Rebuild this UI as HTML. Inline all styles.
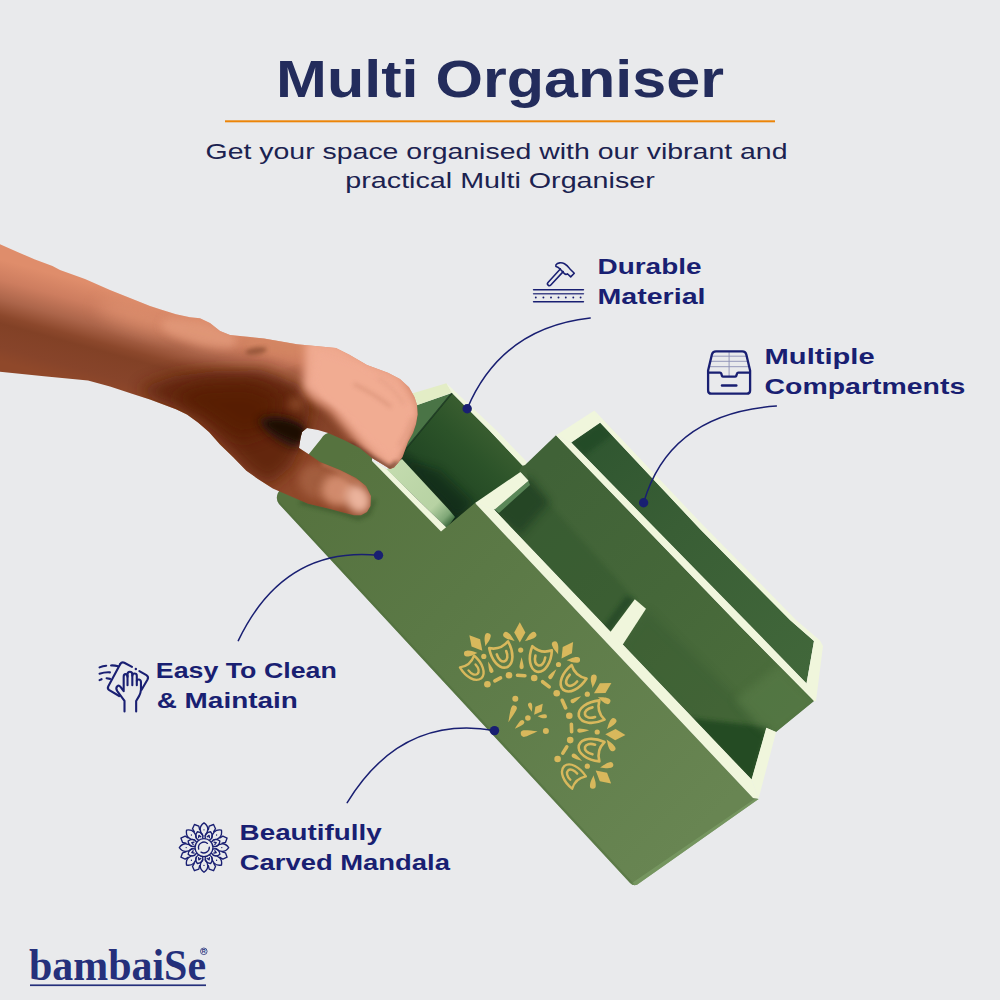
<!DOCTYPE html>
<html lang="en">
<head>
<meta charset="utf-8">
<title>Multi Organiser</title>
<style>
  html, body { margin: 0; padding: 0; background: #e9eaec; }
  body { width: 1000px; height: 1000px; overflow: hidden; position: relative; }
  svg { position: absolute; left: 0; top: 0; display: block; }
  .sans { font-family: "Liberation Sans", "DejaVu Sans", sans-serif; }
  .serif { font-family: "Liberation Serif", "DejaVu Serif", serif; }
  .title { font-weight: 700; font-size: 51px; fill: #232c5c; }
  .sub { font-weight: 400; font-size: 22.6px; fill: #1b2250; }
  .feat { font-weight: 700; font-size: 22.8px; fill: #191f72; }
  .logo { font-weight: 700; font-size: 45px; fill: #25307b; }
  .reg { font-weight: 700; font-size: 5.5px; fill: #25307b; }
</style>
</head>
<body>
<svg width="1000" height="1000" viewBox="0 0 1000 1000">
  <defs>
    <linearGradient id="gArm" gradientUnits="userSpaceOnUse" x1="113" y1="290" x2="87" y2="385">
      <stop offset="0" stop-color="#df8d6b"/>
      <stop offset="0.2" stop-color="#cd7d5f"/>
      <stop offset="0.39" stop-color="#ac654a"/>
      <stop offset="0.55" stop-color="#8c482c"/>
      <stop offset="0.63" stop-color="#824126"/>
      <stop offset="0.86" stop-color="#87442a"/>
      <stop offset="1" stop-color="#8f482a"/>
    </linearGradient>
    <linearGradient id="gFront" gradientUnits="userSpaceOnUse" x1="330" y1="470" x2="700" y2="830">
      <stop offset="0" stop-color="#56733f"/>
      <stop offset="0.35" stop-color="#5b7946"/>
      <stop offset="1" stop-color="#688552"/>
    </linearGradient>
    <linearGradient id="gMid" gradientUnits="userSpaceOnUse" x1="540" y1="470" x2="780" y2="720">
      <stop offset="0" stop-color="#406237"/>
      <stop offset="0.5" stop-color="#456739"/>
      <stop offset="1" stop-color="#4c6e3c"/>
    </linearGradient>
    <linearGradient id="gTall" gradientUnits="userSpaceOnUse" x1="490" y1="425" x2="425" y2="495">
      <stop offset="0" stop-color="#3a5e30"/>
      <stop offset="0.35" stop-color="#2c5329"/>
      <stop offset="0.75" stop-color="#234824"/>
      <stop offset="1" stop-color="#11291a"/>
    </linearGradient>
    <linearGradient id="gRear" gradientUnits="userSpaceOnUse" x1="590" y1="430" x2="810" y2="670">
      <stop offset="0" stop-color="#2f5630"/>
      <stop offset="0.4" stop-color="#395e35"/>
      <stop offset="1" stop-color="#41673a"/>
    </linearGradient>
    <linearGradient id="gSage" gradientUnits="userSpaceOnUse" x1="395" y1="465" x2="452" y2="522">
      <stop offset="0" stop-color="#c3dbae"/>
      <stop offset="0.7" stop-color="#b7d2a3"/>
      <stop offset="0.9" stop-color="#7fa777"/>
      <stop offset="1" stop-color="#3d6a3d"/>
    </linearGradient>
    <filter id="b2" x="-50%" y="-50%" width="200%" height="200%"><feGaussianBlur stdDeviation="2"/></filter>
    <filter id="b4" x="-50%" y="-50%" width="200%" height="200%"><feGaussianBlur stdDeviation="4"/></filter>
    <filter id="b8" x="-50%" y="-50%" width="200%" height="200%"><feGaussianBlur stdDeviation="8"/></filter>
    <filter id="b14" x="-50%" y="-50%" width="200%" height="200%"><feGaussianBlur stdDeviation="14"/></filter>
    <clipPath id="cHand"><path d="M0,244.2 L17.5,251.9 L35,259.6 L52.5,265.9 L60,270 L85,279 L110,290 L135,300 L150,306 L160,309.3 L176,314.3 L190,317.3 L200,318.3 L210,323 L220,331 L230,335 L250,337 L264,338.5 L297,344.2 L323,346.8 L336,348.1 L349,354.6 L367,365 L388,372.8 L400,379 L409,387.2 L414.5,397 L417,405 L417.6,414.4 L416,424 L413,433 L408,442 L402.5,457 L398,463 L394,467.5 L390,469 L382,464 L372,458 L360,448 L344,440 L328,433 L318,430 L307,428 L302,432 L300.5,438 L299,448 L310,455 L320,462 L340,470 L356,478 L366,486 L371,496 L370.5,506 L367,512 L361,515.2 L354,515.3 L343,512.6 L330,509 L308,503.8 L290,496 L272.8,488.4 L258,479 L246.4,470.8 L233,457 L220,444.4 L209,432 L198,422.4 L187,414.5 L176,409.2 L150,399.4 L132,393.8 L110,386.5 L88,380.6 L44,376.2 L0,371.8 Z"/></clipPath>
    <clipPath id="cFront"><path d="M281.5,488 Q273.5,496.5 279,504 L630,883 Q634.5,887.5 639.5,883 L758.6,799 L753,798 L475,503 L441,531.5 L372,461 L372,452 L345,436 L331,432.5 Q324.5,432.5 321,439 Z"/></clipPath>
    <clipPath id="cMid"><polygon points="525,465 556,435.3 740,626 814,701 776,732 766.3,727.8 751.6,779.6 493.5,509 528.4,480.8"/></clipPath>
    <clipPath id="cTall"><polygon points="452,393 489,430 523,466 521,473 475,504 446,529 388,470 400,456"/></clipPath>
  </defs>
  <rect x="0" y="0" width="1000" height="1000" fill="#e9eaec"/>
  <g id="product">
    <polygon points="405,409 417,405 452,393 400,456 388,470" fill="#4a7446"/>
    <polygon points="452,393 489,430 523,466 521,473 475,504 446,529 388,470 400,456" fill="url(#gTall)"/>
    <path d="M452,393 L400,456" stroke="#14301a" stroke-width="1.6" opacity="0.8"/>
    <g clip-path="url(#cTall)"><polygon points="402,459 449,509.8 456,517 447,528 475,503 440,470" fill="#0f2715" opacity="0.55" filter="url(#b4)"/></g>
    <polygon points="386,470 402,459 449,509.8 455,517 447,528 385,468" fill="url(#gSage)"/>
    <polygon points="446.4,383.2 402,396.5 405,409.5 452,392.8" fill="#e3edc6"/>
    <polygon points="446.4,383.2 496,430 527,462 524.5,466.5 522,465 489,430 452,392.8" fill="#f0f6dc"/>
    <polygon points="525,465 556,435.3 740,626 814,701 776,732 766.3,727.8 751.6,779.6 493.5,509 528.4,480.8 519,471 522,466" fill="url(#gMid)"/>
    <g clip-path="url(#cMid)"><polygon points="488,504 528.4,480.8 634.8,599.2 606,636" fill="#2f532c" opacity="0.38" filter="url(#b2)"/></g>
    <g clip-path="url(#cMid)"><polygon points="490,511 528.4,476 550,502 520,536" fill="#15341a" opacity="0.55" filter="url(#b4)"/></g>
    <g clip-path="url(#cMid)"><polygon points="646,608.8 762,722 770,727.8 751.6,784 618,648" fill="#30552e" opacity="0.32" filter="url(#b4)"/></g>
    <polygon points="528.4,480.8 530,485 499,513 494.8,509.6" fill="#5a8758"/>
    <polygon points="571.2,442.6 600,422.5 700,529 790,620 814,641 806.5,683.5" fill="url(#gRear)"/>
    <polygon points="571.2,442.6 600,422.5 612,435 584,456" fill="#1f4423" opacity="0.6" filter="url(#b2)"/>
    <polygon points="556,435.3 594.4,410.4 600.5,422.5 571.2,442.6" fill="#f0f6dc"/>
    <polygon points="594.4,410.4 700,522 796,620 820,640.5 823,646 816,701 814,701 806.5,683.5 814,641 790,620 700,529 600,422.5" fill="#f0f6dc"/>
    <polygon points="556,435.3 571.2,442.6 745,620 806.5,683.5 816,701 814,701 740,626" fill="#f0f6dc"/>
    <polygon points="475,503 520.4,472 528.4,480.8 494.8,509.6" fill="#f0f6dc"/>
    <polygon points="634.8,599.2 610,632.5 603,627 626,596" fill="#1d4021" opacity="0.6" filter="url(#b2)"/>
    <polygon points="634.8,599.2 646,608.8 622.5,645 610,632.5" fill="#f0f6dc"/>
    <g clip-path="url(#cMid)"><polygon points="768,727 751.6,783 690,718" fill="#244a24" opacity="0.9" filter="url(#b2)"/></g>
    <g clip-path="url(#cMid)"><polygon points="820,705 776,736 760,727.8 735,700 780,664" fill="#5a7e48" opacity="0.55" filter="url(#b4)"/></g>
    <polygon points="766.3,727.8 776.1,732 758.6,798.5 751.6,779.6" fill="#f0f6dc"/>
    <polygon points="475,503 493.5,509 751.6,779.6 758.6,798.5 753,798" fill="#f0f6dc"/>
    <polygon points="372,461 385,468 447,528 441,531.5" fill="#f0f6dc"/>
    <path d="M281.5,488 Q273.5,496.5 279,504 L630,883 Q634.5,887.5 639.5,883 L758.6,799 L753,798 L475,503 L441,531.5 L372,461 L372,452 L345,436 L331,432.5 Q324.5,432.5 321,439 Z" fill="url(#gFront)"/>
    <g clip-path="url(#cFront)">
      <path d="M300,502 L340,512 L358,518 L368,514 L374,500" stroke="#2f4a24" stroke-width="4" opacity="0.55" fill="none" filter="url(#b2)"/>
      <path d="M633,886 L760,799" stroke="#7ea069" stroke-width="6" opacity="0.6" fill="none"/>
      <path d="M277,501 L633,885" stroke="#4a6a3a" stroke-width="3" opacity="0.35" fill="none"/>
    </g>
    <g id="gold" fill="#d8b85c" clip-path="url(#cFront)">
      <circle cx="487.4" cy="684.3" r="3.3"/>
      <circle cx="509.0" cy="675.3" r="3.3"/>
      <circle cx="534.2" cy="678.0" r="3.3"/>
      <circle cx="556.7" cy="693.3" r="3.3"/>
      <circle cx="569.3" cy="715.8" r="3.3"/>
      <circle cx="570.2" cy="740.1" r="3.3"/>
      <circle cx="557.6" cy="759.0" r="3.3"/>
      <rect x="-5.0" y="-1.8" width="10" height="3.6" rx="1.8" transform="translate(497.7,679.4) rotate(-28)"/>
      <rect x="-5.5" y="-1.8" width="11" height="3.6" rx="1.8" transform="translate(521.2,675.5) rotate(3)"/>
      <rect x="-6.0" y="-1.8" width="12" height="3.6" rx="1.8" transform="translate(545.9,684.3) rotate(38)"/>
      <rect x="-6.0" y="-1.8" width="12" height="3.6" rx="1.8" transform="translate(563.9,704.1) rotate(66)"/>
      <rect x="-5.5" y="-1.8" width="11" height="3.6" rx="1.8" transform="translate(571.5,728.0) rotate(88)"/>
      <rect x="-5.5" y="-1.8" width="11" height="3.6" rx="1.8" transform="translate(564.8,750.0) rotate(-58)"/>
      <circle cx="483.8" cy="656.4" r="2.6"/>
      <circle cx="520.7" cy="650.1" r="2.6"/>
      <circle cx="558.5" cy="664.5" r="2.6"/>
      <circle cx="587.3" cy="694.2" r="2.6"/>
      <circle cx="597.2" cy="732.0" r="2.6"/>
      <circle cx="587.3" cy="766.2" r="2.6"/>
      <path d="M-6.0,0 C-2.0,-1.1 2.0,-2.1 3.9,-2.1 A2.1,2.1 0 1 1 3.9,2.1 C2.0,2.1 -2.0,1.1 -6.0,0 Z" transform="translate(490.1,667.2) rotate(70)"/>
      <path d="M-6.0,0 C-2.0,-1.1 2.0,-2.1 3.9,-2.1 A2.1,2.1 0 1 1 3.9,2.1 C2.0,2.1 -2.0,1.1 -6.0,0 Z" transform="translate(521.6,663.2) rotate(90)"/>
      <path d="M-6.0,0 C-2.0,-1.1 2.0,-2.1 3.9,-2.1 A2.1,2.1 0 1 1 3.9,2.1 C2.0,2.1 -2.0,1.1 -6.0,0 Z" transform="translate(552.7,674.0) rotate(128)"/>
      <path d="M-6.0,0 C-2.0,-1.1 2.0,-2.1 3.9,-2.1 A2.1,2.1 0 1 1 3.9,2.1 C2.0,2.1 -2.0,1.1 -6.0,0 Z" transform="translate(576.0,699.2) rotate(150)"/>
      <path d="M-6.0,0 C-2.0,-1.1 2.0,-2.1 3.9,-2.1 A2.1,2.1 0 1 1 3.9,2.1 C2.0,2.1 -2.0,1.1 -6.0,0 Z" transform="translate(583.2,730.4) rotate(178)"/>
      <path d="M-6.0,0 C-2.0,-1.1 2.0,-2.1 3.9,-2.1 A2.1,2.1 0 1 1 3.9,2.1 C2.0,2.1 -2.0,1.1 -6.0,0 Z" transform="translate(577.0,757.7) rotate(-148)"/>
      <g transform="translate(474.1,669.9) rotate(-40) scale(0.92)" fill="none" stroke="#d8b85c" stroke-width="2.6" stroke-linejoin="round" stroke-linecap="round"><path d="M-10,-12 C-12,0 -8,11.5 0,12 C8,11.5 12,0 10,-12 Q0,-6 -10,-12 Z"/><path d="M-5,-3.5 C-5.3,2 -3,5.6 0,5.6 C3,5.6 5.3,2 5,-3.5"/></g>
      <g transform="translate(502.7,656.0) rotate(-20) scale(1)" fill="none" stroke="#d8b85c" stroke-width="2.6" stroke-linejoin="round" stroke-linecap="round"><path d="M-10,-12 C-12,0 -8,11.5 0,12 C8,11.5 12,0 10,-12 Q0,-6 -10,-12 Z"/><path d="M-5,-3.5 C-5.3,2 -3,5.6 0,5.6 C3,5.6 5.3,2 5,-3.5"/></g>
      <g transform="translate(539.6,660.0) rotate(12) scale(1)" fill="none" stroke="#d8b85c" stroke-width="2.6" stroke-linejoin="round" stroke-linecap="round"><path d="M-10,-12 C-12,0 -8,11.5 0,12 C8,11.5 12,0 10,-12 Q0,-6 -10,-12 Z"/><path d="M-5,-3.5 C-5.3,2 -3,5.6 0,5.6 C3,5.6 5.3,2 5,-3.5"/></g>
      <g transform="translate(571.1,680.7) rotate(42) scale(1)" fill="none" stroke="#d8b85c" stroke-width="2.6" stroke-linejoin="round" stroke-linecap="round"><path d="M-10,-12 C-12,0 -8,11.5 0,12 C8,11.5 12,0 10,-12 Q0,-6 -10,-12 Z"/><path d="M-5,-3.5 C-5.3,2 -3,5.6 0,5.6 C3,5.6 5.3,2 5,-3.5"/></g>
      <g transform="translate(590.4,713.1) rotate(75) scale(1)" fill="none" stroke="#d8b85c" stroke-width="2.6" stroke-linejoin="round" stroke-linecap="round"><path d="M-10,-12 C-12,0 -8,11.5 0,12 C8,11.5 12,0 10,-12 Q0,-6 -10,-12 Z"/><path d="M-5,-3.5 C-5.3,2 -3,5.6 0,5.6 C3,5.6 5.3,2 5,-3.5"/></g>
      <g transform="translate(590.4,748.6) rotate(105) scale(1)" fill="none" stroke="#d8b85c" stroke-width="2.6" stroke-linejoin="round" stroke-linecap="round"><path d="M-10,-12 C-12,0 -8,11.5 0,12 C8,11.5 12,0 10,-12 Q0,-6 -10,-12 Z"/><path d="M-5,-3.5 C-5.3,2 -3,5.6 0,5.6 C3,5.6 5.3,2 5,-3.5"/></g>
      <g transform="translate(571.6,774.3) rotate(138) scale(0.92)" fill="none" stroke="#d8b85c" stroke-width="2.6" stroke-linejoin="round" stroke-linecap="round"><path d="M-10,-12 C-12,0 -8,11.5 0,12 C8,11.5 12,0 10,-12 Q0,-6 -10,-12 Z"/><path d="M-5,-3.5 C-5.3,2 -3,5.6 0,5.6 C3,5.6 5.3,2 5,-3.5"/></g>
      <g transform="translate(476.2,643.4) rotate(-40) scale(1.12)"><path d="M0,-9.5 L5,-0.5 L0,8.5 L-5,-0.5 Z"/><path transform="translate(-4.6,7.2) rotate(-143.6)" d="M0,0 C3.30,-0.91 5.19,-2.60 9.44,-2.60 A2.60,2.60 0 1 1 9.44,2.60 C5.19,2.60 3.30,0.91 0,0 Z"/><path transform="translate(4.6,7.2) rotate(-36.4)" d="M0,0 C3.30,-0.91 5.19,-2.60 9.44,-2.60 A2.60,2.60 0 1 1 9.44,2.60 C5.19,2.60 3.30,0.91 0,0 Z"/></g>
      <g transform="translate(519.8,633.0) rotate(0) scale(1.12)"><path d="M0,-9.5 L5,-0.5 L0,8.5 L-5,-0.5 Z"/><path transform="translate(-4.6,7.2) rotate(-143.6)" d="M0,0 C3.30,-0.91 5.19,-2.60 9.44,-2.60 A2.60,2.60 0 1 1 9.44,2.60 C5.19,2.60 3.30,0.91 0,0 Z"/><path transform="translate(4.6,7.2) rotate(-36.4)" d="M0,0 C3.30,-0.91 5.19,-2.60 9.44,-2.60 A2.60,2.60 0 1 1 9.44,2.60 C5.19,2.60 3.30,0.91 0,0 Z"/></g>
      <g transform="translate(567.0,650.6) rotate(35) scale(1.12)"><path d="M0,-9.5 L5,-0.5 L0,8.5 L-5,-0.5 Z"/><path transform="translate(-4.6,7.2) rotate(-143.6)" d="M0,0 C3.30,-0.91 5.19,-2.60 9.44,-2.60 A2.60,2.60 0 1 1 9.44,2.60 C5.19,2.60 3.30,0.91 0,0 Z"/><path transform="translate(4.6,7.2) rotate(-36.4)" d="M0,0 C3.30,-0.91 5.19,-2.60 9.44,-2.60 A2.60,2.60 0 1 1 9.44,2.60 C5.19,2.60 3.30,0.91 0,0 Z"/></g>
      <g transform="translate(602.2,688.4) rotate(60) scale(1.12)"><path d="M0,-9.5 L5,-0.5 L0,8.5 L-5,-0.5 Z"/><path transform="translate(-4.6,7.2) rotate(-143.6)" d="M0,0 C3.30,-0.91 5.19,-2.60 9.44,-2.60 A2.60,2.60 0 1 1 9.44,2.60 C5.19,2.60 3.30,0.91 0,0 Z"/><path transform="translate(4.6,7.2) rotate(-36.4)" d="M0,0 C3.30,-0.91 5.19,-2.60 9.44,-2.60 A2.60,2.60 0 1 1 9.44,2.60 C5.19,2.60 3.30,0.91 0,0 Z"/></g>
      <g transform="translate(614.8,734.7) rotate(92) scale(1.12)"><path d="M0,-9.5 L5,-0.5 L0,8.5 L-5,-0.5 Z"/><path transform="translate(-4.6,7.2) rotate(-143.6)" d="M0,0 C3.30,-0.91 5.19,-2.60 9.44,-2.60 A2.60,2.60 0 1 1 9.44,2.60 C5.19,2.60 3.30,0.91 0,0 Z"/><path transform="translate(4.6,7.2) rotate(-36.4)" d="M0,0 C3.30,-0.91 5.19,-2.60 9.44,-2.60 A2.60,2.60 0 1 1 9.44,2.60 C5.19,2.60 3.30,0.91 0,0 Z"/></g>
      <g transform="translate(603.0,776.6) rotate(130) scale(1.12)"><path d="M0,-9.5 L5,-0.5 L0,8.5 L-5,-0.5 Z"/><path transform="translate(-4.6,7.2) rotate(-143.6)" d="M0,0 C3.30,-0.91 5.19,-2.60 9.44,-2.60 A2.60,2.60 0 1 1 9.44,2.60 C5.19,2.60 3.30,0.91 0,0 Z"/><path transform="translate(4.6,7.2) rotate(-36.4)" d="M0,0 C3.30,-0.91 5.19,-2.60 9.44,-2.60 A2.60,2.60 0 1 1 9.44,2.60 C5.19,2.60 3.30,0.91 0,0 Z"/></g>
      <circle cx="515.3" cy="698.7" r="3"/>
      <circle cx="527.9" cy="718.0" r="2.8"/>
      <circle cx="545.9" cy="731.1" r="3"/>
      <g transform="translate(538.2,709.5) rotate(38) scale(0.78)"><path d="M0,-9.5 L5,-0.5 L0,8.5 L-5,-0.5 Z"/><path transform="translate(-4.6,7.2) rotate(-143.6)" d="M0,0 C3.30,-0.91 5.19,-2.60 9.44,-2.60 A2.60,2.60 0 1 1 9.44,2.60 C5.19,2.60 3.30,0.91 0,0 Z"/><path transform="translate(4.6,7.2) rotate(-36.4)" d="M0,0 C3.30,-0.91 5.19,-2.60 9.44,-2.60 A2.60,2.60 0 1 1 9.44,2.60 C5.19,2.60 3.30,0.91 0,0 Z"/></g>
      <path d="M-9.0,0 C-3.0,-1.4 3.0,-2.8 6.2,-2.8 A2.8,2.8 0 1 1 6.2,2.8 C3.0,2.8 -3.0,1.4 -9.0,0 Z" transform="translate(511.7,714.0) rotate(-68)"/>
      <path d="M-6.0,0 C-2.0,-1.1 2.0,-2.2 3.8,-2.2 A2.2,2.2 0 1 1 3.8,2.2 C2.0,2.2 -2.0,1.1 -6.0,0 Z" transform="translate(519.3,724.8) rotate(-42)"/>
      <path d="M-8.5,0 C-2.8,-1.6 2.8,-3.3 5.2,-3.3 A3.3,3.3 0 1 1 5.2,3.3 C2.8,3.3 -2.8,1.6 -8.5,0 Z" transform="translate(529.2,732.7) rotate(170)"/>
    </g>
  </g>
  <g id="hand">
    <path d="M0,244.2 L17.5,251.9 L35,259.6 L52.5,265.9 L60,270 L85,279 L110,290 L135,300 L150,306 L160,309.3 L176,314.3 L190,317.3 L200,318.3 L210,323 L220,331 L230,335 L250,337 L264,338.5 L297,344.2 L323,346.8 L336,348.1 L349,354.6 L367,365 L388,372.8 L400,379 L409,387.2 L414.5,397 L417,405 L417.6,414.4 L416,424 L413,433 L408,442 L402.5,457 L398,463 L394,467.5 L390,469 L382,464 L372,458 L360,448 L344,440 L328,433 L318,430 L307,428 L302,432 L300.5,438 L299,448 L310,455 L320,462 L340,470 L356,478 L366,486 L371,496 L370.5,506 L367,512 L361,515.2 L354,515.3 L343,512.6 L330,509 L308,503.8 L290,496 L272.8,488.4 L258,479 L246.4,470.8 L233,457 L220,444.4 L209,432 L198,422.4 L187,414.5 L176,409.2 L150,399.4 L132,393.8 L110,386.5 L88,380.6 L44,376.2 L0,371.8 Z" fill="url(#gArm)"/>
    <g clip-path="url(#cHand)">
      <ellipse cx="140" cy="318" rx="44" ry="12" fill="#e39876" opacity="0.5" filter="url(#b8)" transform="rotate(17 140 318)"/>
      <ellipse cx="200" cy="333" rx="40" ry="12" fill="#e29a7a" opacity="0.85" filter="url(#b4)" transform="rotate(14 200 333)"/>
      <ellipse cx="275" cy="346" rx="36" ry="9" fill="#d28562" opacity="0.8" filter="url(#b4)" transform="rotate(8 275 346)"/>
      <path d="M140,388 L175,376 L215,371 L262,370 L298,384 L311,408 L303,440 L292,466 L268,486 L246,470 L222,444 L200,422 L178,408 L150,398 Z" fill="#62260a" opacity="0.97" filter="url(#b8)"/>
      <path d="M170,398 L200,386 L250,384 L278,396 L270,430 L240,440 L205,416 Z" fill="#571d04" opacity="0.8" filter="url(#b8)"/>
      <ellipse cx="293" cy="374" rx="9" ry="4" fill="#9a5638" opacity="0.6" filter="url(#b4)" transform="rotate(-15 293 376)"/>
      <path d="M300,392 L312,400 L330,414 L345,432 L360,448 L376,462 L390,470 L380,440 L350,410 L320,390 Z" fill="#be7356" opacity="0.95" filter="url(#b4)"/>
      <path d="M306,340 L336,344 L367,360 L400,375 L420,405 L420,420 L410,444 L400,466 L390,472 L378,460 L362,444 L347,426 L332,408 L314,397 L303,388 L305,368 Z" fill="#f0aa91" opacity="1" filter="url(#b4)"/>
      <path d="M318,352 L360,366 L398,388 L412,410 L404,440 L392,458 L368,438 L346,414 L322,396 L314,380 Z" fill="#f1ac93" opacity="0.9" filter="url(#b2)"/>
      <path d="M354,384 C368,391 380,398 391,407" stroke="#d08a70" stroke-width="2.2" fill="none" opacity="0.8" filter="url(#b2)"/>
      <path d="M378,378 C390,386 398,394 404,404" stroke="#dc977d" stroke-width="2" fill="none" opacity="0.6" filter="url(#b2)"/>
      <path d="M399,446 C405,436 409,428 412,418" stroke="#cf8a6f" stroke-width="2" fill="none" opacity="0.6" filter="url(#b2)"/>
      <ellipse cx="296" cy="404" rx="9" ry="7" fill="#93502f" opacity="0.7" filter="url(#b4)"/>
      <ellipse cx="318" cy="482" rx="20" ry="17" fill="#a45e3f" opacity="0.95" filter="url(#b4)" transform="rotate(28 318 482)"/>
      <ellipse cx="338" cy="490" rx="16" ry="16" fill="#d48e70" opacity="0.95" filter="url(#b4)" transform="rotate(28 338 490)"/>
      <ellipse cx="358" cy="499" rx="12" ry="15" fill="#ebb39c" opacity="1" filter="url(#b4)" transform="rotate(-25 358 499)"/>
      <path d="M322,463 L344,473 L363,485" stroke="#d99573" stroke-width="4" fill="none" opacity="0.55" filter="url(#b2)"/>
      <path d="M258,420 C272,410 296,418 307,428 L302,432 L299,448 L290,447 C280,442 264,434 258,420 Z" fill="#2a1208" opacity="0.97" filter="url(#b4)"/>
      <path d="M266,423 C280,418 294,423 304,430 L300,442 C288,438 274,432 266,423 Z" fill="#1f0c05" opacity="0.9" filter="url(#b2)"/>
      <ellipse cx="256" cy="351" rx="11" ry="3.4" fill="#8a4d30" opacity="0.8" filter="url(#b2)" transform="rotate(-8 256 351)"/>
      <path d="M350,443 L372,458 L390,468.5 L397,462" stroke="#4e2614" stroke-width="3.5" fill="none" opacity="0.8" filter="url(#b2)"/>
    </g>
  </g>
  <g id="connectors" fill="none" stroke="#191f72" stroke-width="1.5" stroke-linecap="round">
    <path d="M590.2,318 Q501.5,327.8 467.2,408.7"/>
    <path d="M776.4,406 Q669.6,413.5 643.6,502.8"/>
    <path d="M378.5,555.3 Q283.5,546 238.3,640.6"/>
    <path d="M494.5,730.6 Q401.2,714.4 347.2,802.6"/>
  </g>
  <g id="dots" fill="#191f72">
    <circle cx="467.2" cy="408.7" r="4.7"/>
    <circle cx="643.6" cy="502.8" r="4.7"/>
    <circle cx="378.5" cy="555.3" r="4.7"/>
    <circle cx="494.5" cy="730.6" r="4.7"/>
  </g>
  <g id="icon-hammer" fill="none" stroke="#191f72" stroke-width="1.55" stroke-linecap="round" stroke-linejoin="round">
    <path d="M533.6,289.8 H583.4"/>
    <path d="M533.6,293.7 H583.4" opacity="0.8"/>
    <path d="M533.6,301.7 H583.4"/>
    <circle cx="535.8" cy="297.5" r="0.95" fill="#191f72" stroke="none"/><circle cx="543.4" cy="297.5" r="0.95" fill="#191f72" stroke="none"/><circle cx="551.0" cy="297.5" r="0.95" fill="#191f72" stroke="none"/><circle cx="558.5" cy="297.5" r="0.95" fill="#191f72" stroke="none"/><circle cx="565.8" cy="297.5" r="0.95" fill="#191f72" stroke="none"/><circle cx="573.3" cy="297.5" r="0.95" fill="#191f72" stroke="none"/><circle cx="580.6" cy="297.5" r="0.95" fill="#191f72" stroke="none"/>
    <path d="M560.3,268.9 L548,282.4 A1.9,1.9 0 0 0 550.8,285 L563.2,271.6"/>
    <path d="M555.9,264.9 C557.5,262.6 561.5,262.2 564.5,263.8 C567.8,265.6 569.2,268 570.2,269.3 L574.3,273.2 L570.7,276.9 L567.4,273.7 C566.5,274.6 565.2,274.4 564.2,273.4 L559.8,268.7 C558.6,267.4 557.4,266.6 555.9,266.4 Z"/>
  </g>
  <g id="icon-drawer" fill="none" stroke="#191f72" stroke-linecap="round" stroke-linejoin="round">
    <g stroke-width="0.9" opacity="0.45">
      <path d="M712.2,356.2 H746"/><path d="M711,361.3 H747.2"/><path d="M709.8,366.7 H748.4"/><path d="M729.1,352.5 V376"/>
    </g>
    <path stroke-width="2.3" d="M716,351.4 H742.3 Q745.6,351.4 746.3,354.6 L750.1,370.5 V390.4 Q750.1,393.7 746.8,393.7 H711.4 Q708.1,393.7 708.1,390.4 V370.5 L711.9,354.6 Q712.7,351.4 716,351.4 Z"/>
    <path stroke-width="2.3" d="M708.3,372.7 H720 Q721,372.7 721.3,373.7 L722,376 Q722.3,376.7 723.3,376.7 H735 Q735.9,376.7 736.2,376 L737,373.7 Q737.3,372.7 738.3,372.7 H749.9"/>
    <path stroke-width="2.5" d="M722,385.5 H736.3"/>
  </g>
  <g id="icon-clean" fill="none" stroke="#191f72" stroke-width="2.1" stroke-linecap="round" stroke-linejoin="round">
    <path d="M 120.16,664.16 L 108.32,686.24 Q 107.04,688.80 109.28,690.21 L 119.20,696.03"/>
    <path d="M 120.16,664.16 Q 121.76,661.60 124.32,662.75 L 132.00,666.85"/>
    <path d="M 139.36,671.07 L 146.40,675.17 Q 148.96,676.83 147.55,679.52 L 141.60,689.76"/>
    <path d="M 99.55,667.36 Q 102.88,665.95 106.21,665.70"/>
    <path d="M 111.07,665.44 Q 114.72,665.31 118.11,666.21"/>
    <path d="M 99.55,673.76 Q 104.80,671.97 109.92,672.35"/>
    <path d="M 99.55,680.16 L 101.60,679.20"/>
    <path d="M 106.59,678.24 L 110.05,678.88"/>
    <path d="M 124.51,711.52 L 124.51,700.96 L 117.28,691.04 Q 115.36,688.16 117.28,686.24 Q 118.88,684.96 120.48,686.88 L 123.68,691.17 L 123.68,676.64 Q 123.68,674.08 125.60,674.08 Q 127.52,674.08 127.52,676.64 L 127.52,685.28"/>
    <path d="M 127.52,676.64 L 127.52,674.40 Q 127.52,671.71 129.89,671.71 Q 132.32,671.71 132.32,674.40 L 132.32,685.28"/>
    <path d="M 132.32,675.68 Q 132.32,673.44 134.56,673.44 Q 136.80,673.44 136.80,675.68 L 136.80,685.28"/>
    <path d="M 136.80,680.80 Q 137.12,679.20 139.04,679.52 Q 140.96,679.84 140.96,682.08 L 140.96,689.76 Q 140.77,692.96 139.04,696.16 L 136.16,700.96 L 136.16,711.52"/>
    <circle cx="135.84" cy="668.96" r="1.2" fill="#191f72" stroke="none"/>
  </g>
  <g id="icon-mandala" fill="none" stroke="#191f72" stroke-width="1.35" stroke-linecap="round" stroke-linejoin="round">
    <circle cx="204.0" cy="847.6" r="9"/>
    <path d="M198.7,849.1 A5.5,5.5 0 0 1 207.5,843.4" />
    <path d="M209.3,847.1 A5.5,5.5 0 0 1 201.0,852.2" />
    <path transform="rotate(0 204.0 847.6)" d="M205.3,835.3000000000001 C206.8,833.8000000000001 207.7,831.8000000000001 207.8,829.4 C207.9,827.0 206.4,824.6 204.0,822.9 C201.6,824.6 200.1,827.0 200.2,829.4 C200.3,831.8000000000001 201.2,833.8000000000001 202.7,835.3000000000001"/>
    <circle transform="rotate(0 204.0 847.6)" cx="204.0" cy="829.8000000000001" r="0.65" fill="#191f72" stroke="none"/>
    <path transform="rotate(22.5 204.0 847.6)" d="M201.1,829.2 L200.6,825.8000000000001 L204.0,822.6 L207.4,825.8000000000001 L206.9,829.2"/>
    <path transform="rotate(22.5 204.0 847.6)" d="M201.6,838.3000000000001 C199.4,835.6 200.6,832.0 204.0,830.4 C207.4,832.0 208.6,835.6 206.4,838.3000000000001"/>
    <path transform="rotate(22.5 204.0 847.6)" d="M202.8,836.3000000000001 L204.0,834.4 L205.2,836.3000000000001"/>
    <path transform="rotate(45 204.0 847.6)" d="M205.3,835.3000000000001 C206.8,833.8000000000001 207.7,831.8000000000001 207.8,829.4 C207.9,827.0 206.4,824.6 204.0,822.9 C201.6,824.6 200.1,827.0 200.2,829.4 C200.3,831.8000000000001 201.2,833.8000000000001 202.7,835.3000000000001"/>
    <circle transform="rotate(45 204.0 847.6)" cx="204.0" cy="829.8000000000001" r="0.65" fill="#191f72" stroke="none"/>
    <path transform="rotate(67.5 204.0 847.6)" d="M201.1,829.2 L200.6,825.8000000000001 L204.0,822.6 L207.4,825.8000000000001 L206.9,829.2"/>
    <path transform="rotate(67.5 204.0 847.6)" d="M201.6,838.3000000000001 C199.4,835.6 200.6,832.0 204.0,830.4 C207.4,832.0 208.6,835.6 206.4,838.3000000000001"/>
    <path transform="rotate(67.5 204.0 847.6)" d="M202.8,836.3000000000001 L204.0,834.4 L205.2,836.3000000000001"/>
    <path transform="rotate(90 204.0 847.6)" d="M205.3,835.3000000000001 C206.8,833.8000000000001 207.7,831.8000000000001 207.8,829.4 C207.9,827.0 206.4,824.6 204.0,822.9 C201.6,824.6 200.1,827.0 200.2,829.4 C200.3,831.8000000000001 201.2,833.8000000000001 202.7,835.3000000000001"/>
    <circle transform="rotate(90 204.0 847.6)" cx="204.0" cy="829.8000000000001" r="0.65" fill="#191f72" stroke="none"/>
    <path transform="rotate(112.5 204.0 847.6)" d="M201.1,829.2 L200.6,825.8000000000001 L204.0,822.6 L207.4,825.8000000000001 L206.9,829.2"/>
    <path transform="rotate(112.5 204.0 847.6)" d="M201.6,838.3000000000001 C199.4,835.6 200.6,832.0 204.0,830.4 C207.4,832.0 208.6,835.6 206.4,838.3000000000001"/>
    <path transform="rotate(112.5 204.0 847.6)" d="M202.8,836.3000000000001 L204.0,834.4 L205.2,836.3000000000001"/>
    <path transform="rotate(135 204.0 847.6)" d="M205.3,835.3000000000001 C206.8,833.8000000000001 207.7,831.8000000000001 207.8,829.4 C207.9,827.0 206.4,824.6 204.0,822.9 C201.6,824.6 200.1,827.0 200.2,829.4 C200.3,831.8000000000001 201.2,833.8000000000001 202.7,835.3000000000001"/>
    <circle transform="rotate(135 204.0 847.6)" cx="204.0" cy="829.8000000000001" r="0.65" fill="#191f72" stroke="none"/>
    <path transform="rotate(157.5 204.0 847.6)" d="M201.1,829.2 L200.6,825.8000000000001 L204.0,822.6 L207.4,825.8000000000001 L206.9,829.2"/>
    <path transform="rotate(157.5 204.0 847.6)" d="M201.6,838.3000000000001 C199.4,835.6 200.6,832.0 204.0,830.4 C207.4,832.0 208.6,835.6 206.4,838.3000000000001"/>
    <path transform="rotate(157.5 204.0 847.6)" d="M202.8,836.3000000000001 L204.0,834.4 L205.2,836.3000000000001"/>
    <path transform="rotate(180 204.0 847.6)" d="M205.3,835.3000000000001 C206.8,833.8000000000001 207.7,831.8000000000001 207.8,829.4 C207.9,827.0 206.4,824.6 204.0,822.9 C201.6,824.6 200.1,827.0 200.2,829.4 C200.3,831.8000000000001 201.2,833.8000000000001 202.7,835.3000000000001"/>
    <circle transform="rotate(180 204.0 847.6)" cx="204.0" cy="829.8000000000001" r="0.65" fill="#191f72" stroke="none"/>
    <path transform="rotate(202.5 204.0 847.6)" d="M201.1,829.2 L200.6,825.8000000000001 L204.0,822.6 L207.4,825.8000000000001 L206.9,829.2"/>
    <path transform="rotate(202.5 204.0 847.6)" d="M201.6,838.3000000000001 C199.4,835.6 200.6,832.0 204.0,830.4 C207.4,832.0 208.6,835.6 206.4,838.3000000000001"/>
    <path transform="rotate(202.5 204.0 847.6)" d="M202.8,836.3000000000001 L204.0,834.4 L205.2,836.3000000000001"/>
    <path transform="rotate(225 204.0 847.6)" d="M205.3,835.3000000000001 C206.8,833.8000000000001 207.7,831.8000000000001 207.8,829.4 C207.9,827.0 206.4,824.6 204.0,822.9 C201.6,824.6 200.1,827.0 200.2,829.4 C200.3,831.8000000000001 201.2,833.8000000000001 202.7,835.3000000000001"/>
    <circle transform="rotate(225 204.0 847.6)" cx="204.0" cy="829.8000000000001" r="0.65" fill="#191f72" stroke="none"/>
    <path transform="rotate(247.5 204.0 847.6)" d="M201.1,829.2 L200.6,825.8000000000001 L204.0,822.6 L207.4,825.8000000000001 L206.9,829.2"/>
    <path transform="rotate(247.5 204.0 847.6)" d="M201.6,838.3000000000001 C199.4,835.6 200.6,832.0 204.0,830.4 C207.4,832.0 208.6,835.6 206.4,838.3000000000001"/>
    <path transform="rotate(247.5 204.0 847.6)" d="M202.8,836.3000000000001 L204.0,834.4 L205.2,836.3000000000001"/>
    <path transform="rotate(270 204.0 847.6)" d="M205.3,835.3000000000001 C206.8,833.8000000000001 207.7,831.8000000000001 207.8,829.4 C207.9,827.0 206.4,824.6 204.0,822.9 C201.6,824.6 200.1,827.0 200.2,829.4 C200.3,831.8000000000001 201.2,833.8000000000001 202.7,835.3000000000001"/>
    <circle transform="rotate(270 204.0 847.6)" cx="204.0" cy="829.8000000000001" r="0.65" fill="#191f72" stroke="none"/>
    <path transform="rotate(292.5 204.0 847.6)" d="M201.1,829.2 L200.6,825.8000000000001 L204.0,822.6 L207.4,825.8000000000001 L206.9,829.2"/>
    <path transform="rotate(292.5 204.0 847.6)" d="M201.6,838.3000000000001 C199.4,835.6 200.6,832.0 204.0,830.4 C207.4,832.0 208.6,835.6 206.4,838.3000000000001"/>
    <path transform="rotate(292.5 204.0 847.6)" d="M202.8,836.3000000000001 L204.0,834.4 L205.2,836.3000000000001"/>
    <path transform="rotate(315 204.0 847.6)" d="M205.3,835.3000000000001 C206.8,833.8000000000001 207.7,831.8000000000001 207.8,829.4 C207.9,827.0 206.4,824.6 204.0,822.9 C201.6,824.6 200.1,827.0 200.2,829.4 C200.3,831.8000000000001 201.2,833.8000000000001 202.7,835.3000000000001"/>
    <circle transform="rotate(315 204.0 847.6)" cx="204.0" cy="829.8000000000001" r="0.65" fill="#191f72" stroke="none"/>
    <path transform="rotate(337.5 204.0 847.6)" d="M201.1,829.2 L200.6,825.8000000000001 L204.0,822.6 L207.4,825.8000000000001 L206.9,829.2"/>
    <path transform="rotate(337.5 204.0 847.6)" d="M201.6,838.3000000000001 C199.4,835.6 200.6,832.0 204.0,830.4 C207.4,832.0 208.6,835.6 206.4,838.3000000000001"/>
    <path transform="rotate(337.5 204.0 847.6)" d="M202.8,836.3000000000001 L204.0,834.4 L205.2,836.3000000000001"/>
  </g>
  <text class="sans title" x="276" y="97" textLength="448" lengthAdjust="spacingAndGlyphs">Multi Organiser</text>
  <rect x="225" y="120.3" width="550" height="2" fill="#ec8509"/>
  <text class="sans sub" x="205.5" y="158.5" textLength="582" lengthAdjust="spacingAndGlyphs">Get your space organised with our vibrant and</text>
  <text class="sans sub" x="345.3" y="187.5" textLength="309.5" lengthAdjust="spacingAndGlyphs">practical Multi Organiser</text>

  <text class="sans feat" x="597.5" y="273.7" textLength="104" lengthAdjust="spacingAndGlyphs">Durable</text>
  <text class="sans feat" x="597.5" y="303.8" textLength="108" lengthAdjust="spacingAndGlyphs">Material</text>
  <text class="sans feat" x="764.6" y="364" textLength="110" lengthAdjust="spacingAndGlyphs">Multiple</text>
  <text class="sans feat" x="764.6" y="394.4" textLength="200.6" lengthAdjust="spacingAndGlyphs">Compartments</text>
  <text class="sans feat" x="155.8" y="678.3" textLength="181" lengthAdjust="spacingAndGlyphs">Easy To Clean</text>
  <text class="sans feat" x="156.7" y="708.2" textLength="141.2" lengthAdjust="spacingAndGlyphs">&amp; Maintain</text>
  <text class="sans feat" x="239.6" y="840" textLength="142.2" lengthAdjust="spacingAndGlyphs">Beautifully</text>
  <text class="sans feat" x="239.7" y="869.5" textLength="210.3" lengthAdjust="spacingAndGlyphs">Carved Mandala</text>

  <text class="serif logo" x="29" y="980.3" textLength="177" lengthAdjust="spacingAndGlyphs">bambaiSe</text>
  <rect x="30" y="984.4" width="176" height="1.7" fill="#25307b"/>
  <circle cx="203.8" cy="951.3" r="3.3" fill="none" stroke="#25307b" stroke-width="0.8"/>
  <text class="sans reg" x="203.8" y="953.3" text-anchor="middle">R</text>
</svg>
</body>
</html>
